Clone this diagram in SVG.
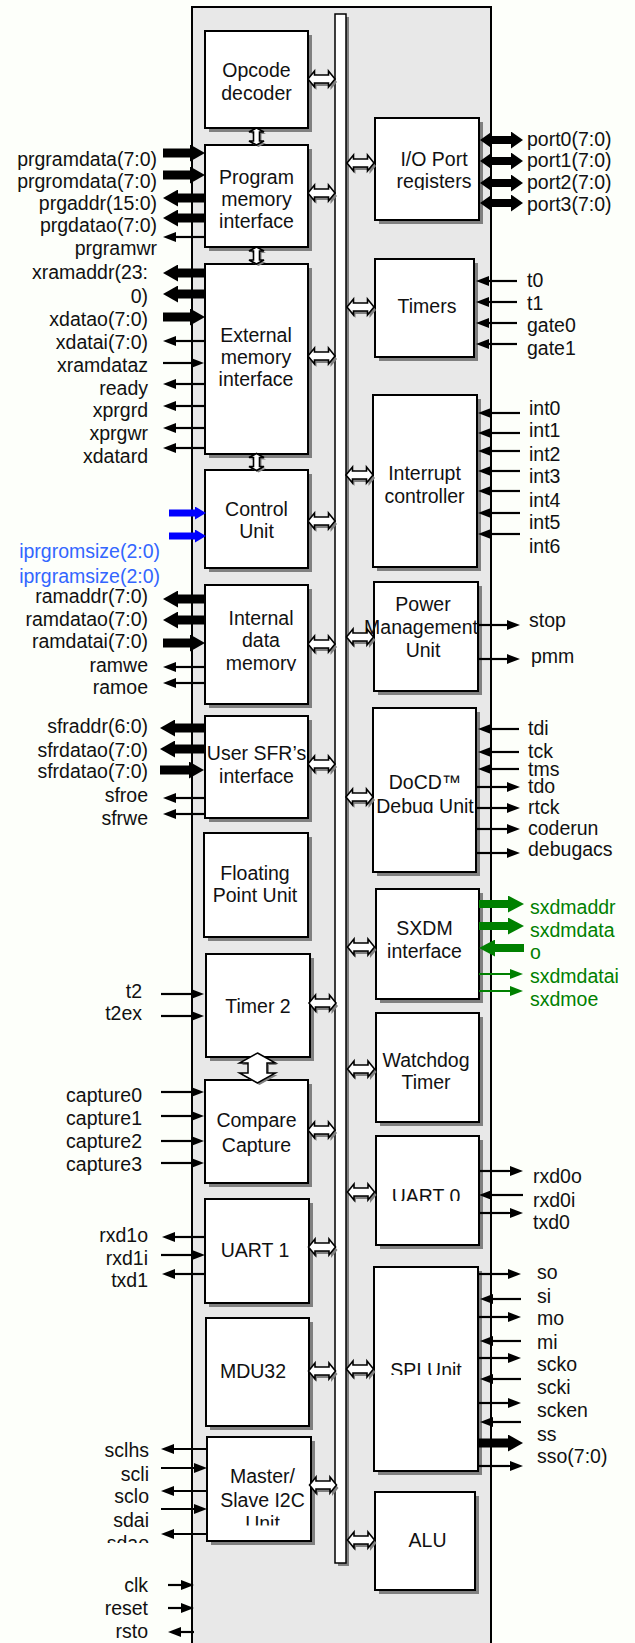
<svg xmlns="http://www.w3.org/2000/svg" xmlns:xlink="http://www.w3.org/1999/xlink" width="635" height="1643" viewBox="0 0 635 1643">
<style>
.box{fill:#fff;stroke:#000;stroke-width:2}
.sh{fill:#808080}
.lbl{font-family:"Liberation Sans",Arial,sans-serif;font-size:19.5px;fill:#111;text-anchor:middle}
.sig{font-family:"Liberation Sans",Arial,sans-serif;font-size:19.5px;fill:#111}
.end{text-anchor:end}
.blue{fill:#3366ff}
.green{fill:#008000}
.tn{stroke:#000;stroke-width:2.2;fill:none;marker-end:url(#ah)}
.tk{stroke:#000;stroke-width:9;fill:none;marker-end:url(#AH)}
.pt{stroke:#000;stroke-width:8;fill:none;marker-end:url(#PH);marker-start:url(#PH)}
.bl{stroke:#0000ff;stroke-width:7;fill:none;marker-end:url(#BH)}
.gk{stroke:#008000;stroke-width:8;fill:none;marker-end:url(#GH)}
.gn{stroke:#008000;stroke-width:2;fill:none;marker-end:url(#gh)}
</style>
<defs>
<marker id="ah" markerUnits="userSpaceOnUse" markerWidth="13" markerHeight="10" refX="0" refY="5" orient="auto"><path d="M0,0L13,5L0,10z" fill="#000"/></marker>
<marker id="AH" markerUnits="userSpaceOnUse" markerWidth="15" markerHeight="17" refX="0" refY="8.5" orient="auto"><path d="M0,0L15,8.5L0,17z" fill="#000"/></marker>
<marker id="PH" markerUnits="userSpaceOnUse" markerWidth="12" markerHeight="17" refX="0" refY="8.5" orient="auto-start-reverse"><path d="M0,0L12,8.5L0,17z" fill="#000"/></marker>
<marker id="BH" markerUnits="userSpaceOnUse" markerWidth="11" markerHeight="13" refX="0" refY="6.5" orient="auto"><path d="M0,0L11,6.5L0,13z" fill="#0000ff"/></marker>
<marker id="GH" markerUnits="userSpaceOnUse" markerWidth="16" markerHeight="17" refX="0" refY="8.5" orient="auto"><path d="M0,0L16,8.5L0,17z" fill="#008000"/></marker>
<marker id="gh" markerUnits="userSpaceOnUse" markerWidth="13" markerHeight="10" refX="0" refY="5" orient="auto"><path d="M0,0L13,5L0,10z" fill="#008000"/></marker>
<path id="dhp" d="M-13.5,0L-7,-8L-7,-4L7,-4L7,-8L13.5,0L7,8L7,4L-7,4L-7,8Z"/>
<g id="dbl"><use xlink:href="#dhp" href="#dhp" x="2" y="3" fill="#808080"/><use xlink:href="#dhp" href="#dhp" fill="#fff" stroke="#000" stroke-width="1.6"/></g>
<path id="vsp" d="M0,-8.5L7.5,-4.5L3,-4.5L3,4.5L7.5,4.5L0,8.5L-7.5,4.5L-3,4.5L-3,-4.5L-7.5,-4.5Z"/>
<g id="vdbl"><use xlink:href="#vsp" href="#vsp" x="2" y="2" fill="#808080"/><use xlink:href="#vsp" href="#vsp" fill="#fff" stroke="#000" stroke-width="1.6"/></g>
<clipPath id="cpIO"><rect x="370" y="110" width="120" height="80"/></clipPath>
<clipPath id="cpIDM"><rect x="200" y="580" width="120" height="91"/></clipPath>
<clipPath id="cpDoCD"><rect x="360" y="700" width="140" height="113"/></clipPath>
<clipPath id="cpU0"><rect x="370" y="1130" width="120" height="71"/></clipPath>
<clipPath id="cpSPI"><rect x="370" y="1260" width="120" height="115"/></clipPath>
<clipPath id="cpI2C"><rect x="200" y="1430" width="130" height="95.5"/></clipPath>
<clipPath id="cpSdao"><rect x="0" y="1530" width="170" height="13"/></clipPath>
</defs>

<rect x="0" y="0" width="635" height="1643" fill="#fdfffa"/>
<g id="core">
<rect x="192" y="7" width="299" height="1660" fill="#e8e8e8" stroke="#000" stroke-width="2"/>
</g>
<g id="bus">
<rect x="338" y="17" width="11" height="1549" class="sh"/>
<rect x="335" y="14" width="11" height="1549" fill="#fff" stroke="#000" stroke-width="1.5"/>
</g>

<g id="opcode-decoder"><rect class="sh" x="209" y="35" width="103" height="97"/><rect class="box" x="205" y="31" width="103" height="97"/><text class="lbl" x="256.5" y="77">Opcode</text><text class="lbl" x="256.5" y="99.5">decoder</text></g>
<g id="program-memory-interface"><rect class="sh" x="209" y="149" width="103" height="102"/><rect class="box" x="205" y="145" width="103" height="102"/><text class="lbl" x="256.5" y="183.5">Program</text><text class="lbl" x="256.5" y="205.5">memory</text><text class="lbl" x="256.5" y="228">interface</text></g>
<g id="external-memory-interface"><rect class="sh" x="209" y="268" width="103" height="190"/><rect class="box" x="205" y="264" width="103" height="190"/><text class="lbl" x="256" y="341.5">External</text><text class="lbl" x="256" y="363.5">memory</text><text class="lbl" x="256" y="385.5">interface</text></g>
<g id="control-unit"><rect class="sh" x="209" y="474" width="103" height="98"/><rect class="box" x="205" y="470" width="103" height="98"/><text class="lbl" x="256.5" y="515.5">Control</text><text class="lbl" x="256.5" y="537.5">Unit</text></g>
<g id="internal-data-memory"><rect class="sh" x="209" y="589" width="103" height="119"/><rect class="box" x="205" y="585" width="103" height="119"/><g clip-path="url(#cpIDM)"><text class="lbl" x="261" y="625">Internal</text><text class="lbl" x="261" y="647">data</text><text class="lbl" x="261" y="669.5">memory</text></g></g>
<g id="user-sfr-interface"><rect class="sh" x="209" y="720" width="103" height="102"/><rect class="box" x="205" y="716" width="103" height="102"/><text class="lbl" x="256.5" y="760">User SFR’s</text><text class="lbl" x="256.5" y="783">interface</text></g>
<g id="floating-point-unit"><rect class="sh" x="208" y="837" width="104" height="104"/><rect class="box" x="204" y="833" width="104" height="104"/><text class="lbl" x="255" y="880">Floating</text><text class="lbl" x="255" y="902">Point Unit</text></g>
<g id="timer-2"><rect class="sh" x="210" y="958" width="104" height="103"/><rect class="box" x="206" y="954" width="104" height="103"/><text class="lbl" x="258" y="1013">Timer 2</text></g>
<g id="compare-capture"><rect class="sh" x="209" y="1084" width="103" height="103"/><rect class="box" x="205" y="1080" width="103" height="103"/><text class="lbl" x="256.5" y="1127">Compare</text><text class="lbl" x="256.5" y="1151.5">Capture</text></g>
<g id="uart-1"><rect class="sh" x="209" y="1203" width="104" height="104"/><rect class="box" x="205" y="1199" width="104" height="104"/><text class="lbl" x="255" y="1256.5">UART 1</text></g>
<g id="mdu32"><rect class="sh" x="210" y="1322" width="103" height="108"/><rect class="box" x="206" y="1318" width="103" height="108"/><text class="lbl" x="253" y="1378">MDU32</text></g>
<g id="i2c-unit"><rect class="sh" x="211" y="1441" width="104" height="104"/><rect class="box" x="207" y="1437" width="104" height="104"/><g clip-path="url(#cpI2C)"><text class="lbl" x="262.5" y="1483">Master/</text><text class="lbl" x="262.5" y="1506.5">Slave I2C</text><text class="lbl" x="262.5" y="1530">Unit</text></g></g>

<g id="io-port-registers"><rect class="sh" x="379" y="122" width="104" height="102"/><rect class="box" x="375" y="118" width="104" height="102"/><g clip-path="url(#cpIO)"><text class="lbl" x="434" y="165.5">I/O Port</text><text class="lbl" x="434" y="187.5">registers</text></g></g>
<g id="timers"><rect class="sh" x="379" y="263" width="99" height="98"/><rect class="box" x="375" y="259" width="99" height="98"/><text class="lbl" x="427" y="313">Timers</text></g>
<g id="interrupt-controller"><rect class="sh" x="377" y="399" width="104" height="172"/><rect class="box" x="373" y="395" width="104" height="172"/><text class="lbl" x="424.5" y="480">Interrupt</text><text class="lbl" x="424.5" y="502.5">controller</text></g>
<g id="power-management-unit"><rect class="sh" x="378" y="586" width="104" height="109"/><rect class="box" x="374" y="582" width="104" height="109"/><text class="lbl" x="423" y="610.5">Power</text><text class="lbl" x="421" y="634">Management</text><text class="lbl" x="423" y="656.5">Unit</text></g>
<g id="docd-debug-unit"><rect class="sh" x="377" y="712" width="103" height="164"/><rect class="box" x="373" y="708" width="103" height="164"/><g clip-path="url(#cpDoCD)"><text class="lbl" x="425" y="788.5">DoCD™</text><text class="lbl" x="425" y="812.5">Debug Unit</text></g></g>
<g id="sxdm-interface"><rect class="sh" x="380" y="893" width="103" height="110"/><rect class="box" x="376" y="889" width="103" height="110"/><text class="lbl" x="424.5" y="935">SXDM</text><text class="lbl" x="424.5" y="957.5">interface</text></g>
<g id="watchdog-timer"><rect class="sh" x="380" y="1017" width="103" height="109"/><rect class="box" x="376" y="1013" width="103" height="109"/><text class="lbl" x="426" y="1067">Watchdog</text><text class="lbl" x="426" y="1089">Timer</text></g>
<g id="uart-0"><rect class="sh" x="380" y="1140" width="103" height="109"/><rect class="box" x="376" y="1136" width="103" height="109"/><g clip-path="url(#cpU0)"><text class="lbl" x="426" y="1203">UART 0</text></g></g>
<g id="spi-unit"><rect class="sh" x="378" y="1271" width="104" height="204"/><rect class="box" x="374" y="1267" width="104" height="204"/><g clip-path="url(#cpSPI)"><text class="lbl" x="426" y="1377">SPI Unit</text></g></g>
<g id="alu"><rect class="sh" x="379" y="1496" width="100" height="98"/><rect class="box" x="375" y="1492" width="100" height="98"/><text class="lbl" x="427.5" y="1547">ALU</text></g>

<g id="connectors">
<use xlink:href="#dbl" href="#dbl" x="321.5" y="79"/>
<use xlink:href="#dbl" href="#dbl" x="321.5" y="193"/>
<use xlink:href="#dbl" href="#dbl" x="321.5" y="356"/>
<use xlink:href="#dbl" href="#dbl" x="321.5" y="521"/>
<use xlink:href="#dbl" href="#dbl" x="321.5" y="644"/>
<use xlink:href="#dbl" href="#dbl" x="321.5" y="764"/>
<use xlink:href="#dbl" href="#dbl" x="322.5" y="1003"/>
<use xlink:href="#dbl" href="#dbl" x="321.5" y="1130"/>
<use xlink:href="#dbl" href="#dbl" x="322" y="1247"/>
<use xlink:href="#dbl" href="#dbl" x="322" y="1371"/>
<use xlink:href="#dbl" href="#dbl" x="323" y="1485"/>
<use xlink:href="#dbl" href="#dbl" x="360.5" y="163"/>
<use xlink:href="#dbl" href="#dbl" x="360.5" y="307"/>
<use xlink:href="#dbl" href="#dbl" x="359.5" y="475"/>
<use xlink:href="#dbl" href="#dbl" x="360" y="637"/>
<use xlink:href="#dbl" href="#dbl" x="359.5" y="797"/>
<use xlink:href="#dbl" href="#dbl" x="361" y="947"/>
<use xlink:href="#dbl" href="#dbl" x="361" y="1069"/>
<use xlink:href="#dbl" href="#dbl" x="361" y="1192"/>
<use xlink:href="#dbl" href="#dbl" x="360" y="1369"/>
<use xlink:href="#dbl" href="#dbl" x="361" y="1540"/>
<use xlink:href="#vdbl" href="#vdbl" x="256.5" y="136.5"/>
<use xlink:href="#vdbl" href="#vdbl" x="256.5" y="255.5"/>
<use xlink:href="#vdbl" href="#vdbl" x="256.5" y="462"/>
<path d="M0,-15L18,-5L9.5,-5L9.5,5L18,5L0,15L-18,5L-9.5,5L-9.5,-5L-18,-5Z" transform="translate(259.5,1070)" fill="#808080"/>
<path d="M0,-15L18,-5L9.5,-5L9.5,5L18,5L0,15L-18,5L-9.5,5L-9.5,-5L-18,-5Z" transform="translate(257.5,1068)" fill="#fff" stroke="#000" stroke-width="1.5"/>

<line class="tk" x1="163" y1="153" x2="190" y2="153"/>
<line class="tk" x1="163" y1="175" x2="190" y2="175"/>
<line class="tk" x1="205" y1="198" x2="178" y2="198"/>
<line class="tk" x1="205" y1="218" x2="178" y2="218"/>
<line class="tn" x1="205" y1="237" x2="176" y2="237"/>

<line class="tk" x1="205" y1="273" x2="178" y2="273"/>
<line class="tk" x1="205" y1="294" x2="178" y2="294"/>
<line class="tk" x1="163" y1="317" x2="190" y2="317"/>
<line class="tn" x1="205" y1="341" x2="176" y2="341"/>
<line class="tn" x1="163" y1="363" x2="191" y2="363"/>
<line class="tn" x1="205" y1="384" x2="176" y2="384"/>
<line class="tn" x1="205" y1="406" x2="176" y2="406"/>
<line class="tn" x1="205" y1="428" x2="176" y2="428"/>
<line class="tn" x1="205" y1="448" x2="176" y2="448"/>

<line class="bl" x1="169" y1="513" x2="195" y2="513"/>
<line class="bl" x1="169" y1="536" x2="195" y2="536"/>

<line class="tk" x1="205" y1="599" x2="178" y2="599"/>
<line class="tk" x1="205" y1="620" x2="178" y2="620"/>
<line class="tk" x1="163" y1="643" x2="190" y2="643"/>
<line class="tn" x1="205" y1="667" x2="176" y2="667"/>
<line class="tn" x1="205" y1="683" x2="176" y2="683"/>

<line class="tk" x1="205" y1="728" x2="175" y2="728"/>
<line class="tk" x1="205" y1="749" x2="175" y2="749"/>
<line class="tk" x1="160" y1="770" x2="189" y2="770"/>
<line class="tn" x1="205" y1="798" x2="176" y2="798"/>
<line class="tn" x1="205" y1="814" x2="176" y2="814"/>

<line class="tn" x1="161" y1="994" x2="191" y2="994"/>
<line class="tn" x1="161" y1="1016" x2="191" y2="1016"/>

<line class="tn" x1="161" y1="1092" x2="191" y2="1092"/>
<line class="tn" x1="161" y1="1116" x2="191" y2="1116"/>
<line class="tn" x1="161" y1="1141" x2="191" y2="1141"/>
<line class="tn" x1="161" y1="1163" x2="191" y2="1163"/>

<line class="tn" x1="205" y1="1237" x2="175" y2="1237"/>
<line class="tn" x1="161" y1="1255" x2="192" y2="1255"/>
<line class="tn" x1="205" y1="1274" x2="175" y2="1274"/>

<line class="tn" x1="207" y1="1449" x2="174" y2="1449"/>
<line class="tn" x1="161" y1="1468" x2="194" y2="1468"/>
<line class="tn" x1="207" y1="1491" x2="174" y2="1491"/>
<line class="tn" x1="161" y1="1509" x2="194" y2="1509"/>
<line class="tn" x1="207" y1="1534" x2="174" y2="1534"/>

<line class="tn" x1="168" y1="1585" x2="181" y2="1585"/>
<line class="tn" x1="168" y1="1608" x2="181" y2="1608"/>
<line class="tn" x1="194" y1="1632" x2="181" y2="1632"/>

<line class="pt" x1="492" y1="140" x2="511" y2="140"/>
<line class="pt" x1="492" y1="161" x2="511" y2="161"/>
<line class="pt" x1="492" y1="183" x2="511" y2="183"/>
<line class="pt" x1="492" y1="203" x2="511" y2="203"/>

<line class="tn" x1="517" y1="281" x2="489" y2="281"/>
<line class="tn" x1="517" y1="302" x2="489" y2="302"/>
<line class="tn" x1="517" y1="323" x2="489" y2="323"/>
<line class="tn" x1="517" y1="344" x2="489" y2="344"/>

<line class="tn" x1="520" y1="413" x2="491" y2="413"/>
<line class="tn" x1="520" y1="433" x2="491" y2="433"/>
<line class="tn" x1="520" y1="451" x2="491" y2="451"/>
<line class="tn" x1="520" y1="471" x2="491" y2="471"/>
<line class="tn" x1="520" y1="491" x2="491" y2="491"/>
<line class="tn" x1="520" y1="513" x2="491" y2="513"/>
<line class="tn" x1="520" y1="534" x2="491" y2="534"/>

<line class="tn" x1="478" y1="625" x2="507" y2="625"/>
<line class="tn" x1="478" y1="659" x2="507" y2="659"/>

<line class="tn" x1="519" y1="729" x2="491" y2="729"/>
<line class="tn" x1="519" y1="752" x2="491" y2="752"/>
<line class="tn" x1="519" y1="769" x2="491" y2="769"/>
<line class="tn" x1="476" y1="787" x2="507" y2="787"/>
<line class="tn" x1="476" y1="808" x2="507" y2="808"/>
<line class="tn" x1="476" y1="829" x2="507" y2="829"/>
<line class="tn" x1="476" y1="853" x2="507" y2="853"/>

<line class="gk" x1="479" y1="904" x2="508" y2="904"/>
<line class="gk" x1="479" y1="926" x2="508" y2="926"/>
<line class="gk" x1="524" y1="948" x2="495" y2="948"/>
<line class="gn" x1="479" y1="974" x2="510" y2="974"/>
<line class="gn" x1="479" y1="991" x2="510" y2="991"/>

<line class="tn" x1="479" y1="1171" x2="510" y2="1171"/>
<line class="tn" x1="523" y1="1195" x2="492" y2="1195"/>
<line class="tn" x1="479" y1="1213" x2="510" y2="1213"/>

<line class="tn" x1="478" y1="1274" x2="508" y2="1274"/>
<line class="tn" x1="521" y1="1299" x2="493" y2="1299"/>
<line class="tn" x1="478" y1="1317" x2="508" y2="1317"/>
<line class="tn" x1="521" y1="1341" x2="493" y2="1341"/>
<line class="tn" x1="478" y1="1358" x2="508" y2="1358"/>
<line class="tn" x1="521" y1="1379" x2="493" y2="1379"/>
<line class="tn" x1="478" y1="1403" x2="508" y2="1403"/>
<line class="tn" x1="521" y1="1422" x2="493" y2="1422"/>
<line class="tk" x1="477" y1="1443" x2="508" y2="1443"/>
<line class="tn" x1="478" y1="1466" x2="510" y2="1466"/>
</g>

<g id="pin-labels">
<text class="sig end" x="157" y="166">prgramdata(7:0)</text>
<text class="sig end" x="157" y="188">prgromdata(7:0)</text>
<text class="sig end" x="157" y="210">prgaddr(15:0)</text>
<text class="sig end" x="157" y="232">prgdatao(7:0)</text>
<text class="sig end" x="157" y="255">prgramwr</text>
<text class="sig end" x="148" y="279">xramaddr(23:</text>
<text class="sig end" x="148" y="303">0)</text>
<text class="sig end" x="148" y="326">xdatao(7:0)</text>
<text class="sig end" x="148" y="349">xdatai(7:0)</text>
<text class="sig end" x="148" y="372">xramdataz</text>
<text class="sig end" x="148" y="395">ready</text>
<text class="sig end" x="148" y="417">xprgrd</text>
<text class="sig end" x="148" y="440">xprgwr</text>
<text class="sig end" x="148" y="463">xdatard</text>
<text class="sig end blue" x="160" y="558">iprgromsize(2:0)</text>
<text class="sig end blue" x="160" y="583">iprgramsize(2:0)</text>
<text class="sig end" x="148" y="603">ramaddr(7:0)</text>
<text class="sig end" x="148" y="626">ramdatao(7:0)</text>
<text class="sig end" x="148" y="648">ramdatai(7:0)</text>
<text class="sig end" x="148" y="672">ramwe</text>
<text class="sig end" x="148" y="694">ramoe</text>
<text class="sig end" x="148" y="733">sfraddr(6:0)</text>
<text class="sig end" x="148" y="757">sfrdatao(7:0)</text>
<text class="sig end" x="148" y="778">sfrdatao(7:0)</text>
<text class="sig end" x="148" y="802">sfroe</text>
<text class="sig end" x="148" y="825">sfrwe</text>
<text class="sig end" x="142" y="998">t2</text>
<text class="sig end" x="142" y="1020">t2ex</text>
<text class="sig end" x="142" y="1102">capture0</text>
<text class="sig end" x="142" y="1125">capture1</text>
<text class="sig end" x="142" y="1148">capture2</text>
<text class="sig end" x="142" y="1171">capture3</text>
<text class="sig end" x="148" y="1242">rxd1o</text>
<text class="sig end" x="148" y="1265">rxd1i</text>
<text class="sig end" x="148" y="1287">txd1</text>
<text class="sig end" x="149" y="1457">sclhs</text>
<text class="sig end" x="149" y="1481">scli</text>
<text class="sig end" x="149" y="1503">sclo</text>
<text class="sig end" x="149" y="1527">sdai</text>
<g clip-path="url(#cpSdao)"><text class="sig end" x="149" y="1550">sdao</text></g>
<text class="sig end" x="148" y="1592">clk</text>
<text class="sig end" x="148" y="1615">reset</text>
<text class="sig end" x="148" y="1638">rsto</text>

<text class="sig" x="527" y="145.5">port0(7:0)</text>
<text class="sig" x="527" y="167">port1(7:0)</text>
<text class="sig" x="527" y="189">port2(7:0)</text>
<text class="sig" x="527" y="210.5">port3(7:0)</text>
<text class="sig" x="527" y="287">t0</text>
<text class="sig" x="527" y="310">t1</text>
<text class="sig" x="527" y="332">gate0</text>
<text class="sig" x="527" y="355">gate1</text>
<text class="sig" x="529" y="415">int0</text>
<text class="sig" x="529" y="437">int1</text>
<text class="sig" x="529" y="461">int2</text>
<text class="sig" x="529" y="483">int3</text>
<text class="sig" x="529" y="507">int4</text>
<text class="sig" x="529" y="529">int5</text>
<text class="sig" x="529" y="553">int6</text>
<text class="sig" x="529" y="627">stop</text>
<text class="sig" x="531" y="663">pmm</text>
<text class="sig" x="528" y="735">tdi</text>
<text class="sig" x="528" y="758">tck</text>
<text class="sig" x="528" y="776">tms</text>
<text class="sig" x="528" y="793">tdo</text>
<text class="sig" x="528" y="814">rtck</text>
<text class="sig" x="528" y="835">coderun</text>
<text class="sig" x="528" y="856">debugacs</text>
<text class="sig green" x="530" y="914">sxdmaddr</text>
<text class="sig green" x="530" y="937">sxdmdata</text>
<text class="sig green" x="530" y="959">o</text>
<text class="sig green" x="530" y="983">sxdmdatai</text>
<text class="sig green" x="530" y="1006">sxdmoe</text>
<text class="sig" x="533" y="1183">rxd0o</text>
<text class="sig" x="533" y="1207">rxd0i</text>
<text class="sig" x="533" y="1229">txd0</text>
<text class="sig" x="537" y="1279">so</text>
<text class="sig" x="537" y="1303">si</text>
<text class="sig" x="537" y="1325">mo</text>
<text class="sig" x="537" y="1349">mi</text>
<text class="sig" x="537" y="1371">scko</text>
<text class="sig" x="537" y="1394">scki</text>
<text class="sig" x="537" y="1417">scken</text>
<text class="sig" x="537" y="1441">ss</text>
<text class="sig" x="537" y="1463">sso(7:0)</text>
</g>
</svg>
